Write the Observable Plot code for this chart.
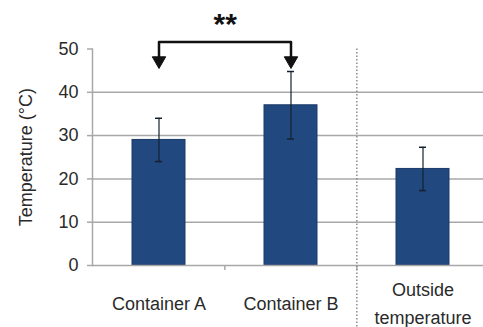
<!DOCTYPE html>
<html>
<head>
<meta charset="utf-8">
<script src="https://cdn.jsdelivr.net/npm/d3@7"></script>
<script src="https://cdn.jsdelivr.net/npm/@observablehq/plot@0.6"></script>
<style>
  html, body { margin: 0; padding: 0; background: #fff; }
  #chart svg { display: block; }
</style>
</head>
<body>
<div id="chart"></div>
<script>
// ---- data ----
const categories = ["Container A", "Container B", "Outside\ntemperature"];
const means = [29, 37, 22.3];
const errors = [5, 7.8, 5];
const yTicks = [0, 10, 20, 30, 40, 50];
const gridValues = [10, 20, 30, 40];
const bracketTop = 51.6;
const arrowCenter = 47.3;
const significance = "**";
const yTitle = "Temperature (\u00B0C)";

// ---- layout ----
const W = 483, H = 327;
const mTop = 48.5, mBottom = 62, mLeft = 92, mRight = 0;
const xRange = [92, 489];
const step = (xRange[1] - xRange[0]) / categories.length;
const frameH = H - mTop - mBottom;
const font = "Liberation Sans, Arial, sans-serif";
const textColor = "#2a2a2a";
const gridColor = "#a8a8a8";

const rows = categories.map((c, i) => ({cat: c, v: means[i], e: errors[i]}));
const bracket = [
  {cat: categories[0], v: arrowCenter},
  {cat: categories[0], v: bracketTop},
  {cat: categories[1], v: bracketTop},
  {cat: categories[1], v: arrowCenter}
];
const heads = categories.slice(0, 2).map(c => ({cat: c, v: arrowCenter}));

const chart = Plot.plot({
  width: W, height: H,
  marginTop: mTop, marginBottom: mBottom, marginLeft: mLeft, marginRight: mRight,
  style: {fontFamily: font, background: "#fff", overflow: "visible"},
  x: {type: "band", domain: categories, range: xRange, paddingInner: 0.6, paddingOuter: 0.3, axis: null},
  y: {domain: [0, 50], axis: null},
  marks: [
    // gridlines
    Plot.ruleY(gridValues, {stroke: gridColor, strokeWidth: 1.5}),
    // bars
    Plot.barY(rows, {x: "cat", y: "v", fill: "#21487f", stroke: "#1a3a68", strokeWidth: 1}),
    // error bars
    Plot.ruleX(rows, {x: "cat", y1: d => d.v - d.e, y2: d => d.v + d.e, stroke: "#15202e", strokeWidth: 1.2}),
    Plot.tickY(rows, {x: "cat", y: d => d.v + d.e, stroke: "#15202e", strokeWidth: 1.5, insetLeft: 23, insetRight: 23}),
    Plot.tickY(rows, {x: "cat", y: d => d.v - d.e, stroke: "#15202e", strokeWidth: 1.5, insetLeft: 23, insetRight: 23}),
    // x axis baseline
    Plot.ruleY([0], {stroke: gridColor, strokeWidth: 1.5}),
    // y axis line
    Plot.frame({anchor: "left", stroke: gridColor, strokeWidth: 1.5}),
    // y axis ticks + labels
    Plot.axisY({ticks: yTicks, tickSize: 5, tickPadding: 9, stroke: gridColor, strokeWidth: 1.5,
      fontSize: 18, fill: textColor, label: null, tickFormat: d => d}),
    // x tick marks at category boundaries
    Plot.ruleX(categories.slice(1), {x: d => d, dx: -step / 2, insetTop: frameH, insetBottom: -5, stroke: gridColor, strokeWidth: 1.5}),
    // dotted separator before the outside temperature
    Plot.ruleX([categories[2]], {x: d => d, dx: -step / 2, insetBottom: -mBottom, stroke: "#8a8a8a", strokeWidth: 1.5, strokeDasharray: "1.5,2"}),
    // x labels
    Plot.text(categories, {x: d => d, text: d => d, frameAnchor: "bottom", dy: 36, lineAnchor: "middle", lineHeight: 1.55,
      fontSize: 18, fill: textColor}),
    // y title
    Plot.text([yTitle], {frameAnchor: "left", dx: -66, rotate: -90, textAnchor: "middle", fontSize: 18, fill: textColor,
      ariaLabel: "ytitle"}),
    // significance bracket
    Plot.line(bracket, {x: "cat", y: "v", stroke: "#111", strokeWidth: 2.5, strokeLinejoin: "round"}),
    Plot.dot(heads, {x: "cat", y: "v", symbol: "triangle", rotate: 180, r: 5, fill: "#111", stroke: "#111", strokeWidth: 1}),
    Plot.text([significance], {x: () => categories[0], dx: step / 2, frameAnchor: "top", dy: -36, lineAnchor: "top",
      fontSize: 30, fontWeight: "bold", fill: "#111"})
  ]
});
// stretch the rotated title along its length, as in the reference
d3.select(chart).selectAll("g[aria-label='ytitle'] text").each(function() {
  const t = this.getAttribute("transform") || "";
  this.setAttribute("transform", t + " scale(1.28,1)");
});
document.getElementById("chart").appendChild(chart);
</script>
</body>
</html>
